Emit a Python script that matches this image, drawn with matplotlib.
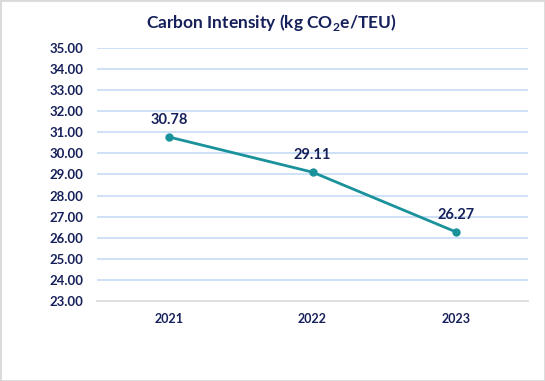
import matplotlib
matplotlib.use('Agg')
import matplotlib.pyplot as plt
from matplotlib.patches import Rectangle

years = ["2021", "2022", "2023"]
intensity = [30.78, 29.11, 26.27]
yticks = [23, 24, 25, 26, 27, 28, 29, 30, 31, 32, 33, 34, 35]

navy = "#16205a"
teal = "#1a929c"
grid_blue = "#c6dcf5"

plt.rcParams['font.family'] = 'Lato'
plt.rcParams['mathtext.fontset'] = 'custom'
plt.rcParams['mathtext.bf'] = 'Lato:bold'
plt.rcParams['mathtext.rm'] = 'Lato'

fig = plt.figure(figsize=(5.45, 3.81), dpi=100)
fig.patches.append(Rectangle((0, 0), 1, 1, transform=fig.transFigure,
                             fill=False, edgecolor="#d9d9d9", linewidth=2))

ax = fig.add_axes([0.178, 0.21, 0.791, 0.664])
x = list(range(len(years)))
ax.plot(x, intensity, color=teal, linewidth=2, marker='o', markersize=5)

for xi, v in zip(x, intensity):
    ax.annotate(f"{v:.2f}", (xi, v), xytext=(0, 7), textcoords='offset points',
                ha='center', va='bottom', color=navy, fontsize=10.5,
                fontweight='bold')

ax.set_xlim(-0.5, 2.5)
ax.set_ylim(23, 35)
ax.set_xticks(x)
ax.set_xticklabels(years, fontweight='bold', fontsize=9, color=navy)
ax.set_yticks(yticks)
ax.set_yticklabels([f"{t:.2f}" for t in yticks], fontweight='bold',
                   fontsize=9.5, color=navy)
ax.tick_params(axis='y', length=0, pad=10)
ax.tick_params(axis='x', length=0, pad=9)

for t in yticks[1:]:
    ax.axhline(t, color=grid_blue, linewidth=1.2, zorder=0)
for s in ['top', 'right', 'left']:
    ax.spines[s].set_visible(False)
ax.spines['bottom'].set_color("#d9d9d9")
ax.spines['bottom'].set_linewidth(1.2)

fig.text(0.498, 0.942, r"Carbon Intensity (kg CO$_\mathbf{2}$e/TEU)", ha='center',
         va='center', fontsize=12.5, fontweight='bold', color=navy)

fig.savefig("out.png", dpi=100)
